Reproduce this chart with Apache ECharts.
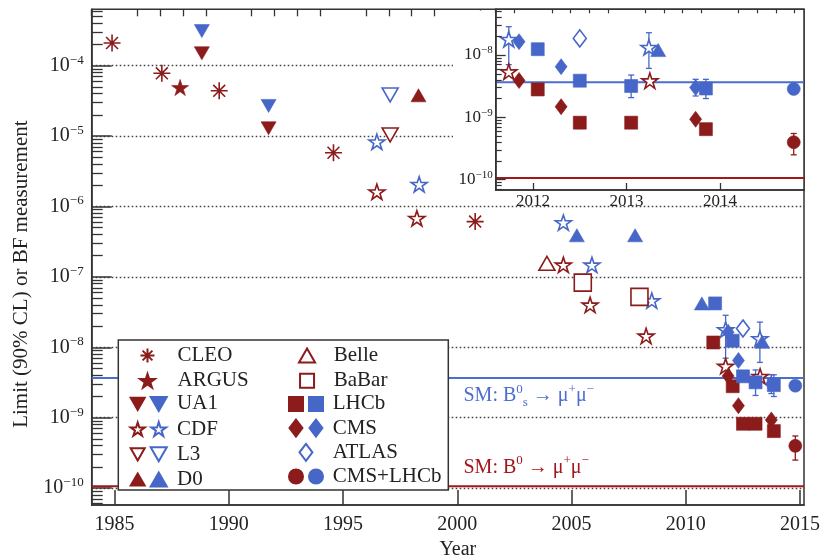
<!DOCTYPE html>
<html><head><meta charset="utf-8">
<script src="https://cdn.jsdelivr.net/npm/echarts@6/dist/echarts.min.js"></script>
<style>html,body{margin:0;padding:0;background:#fff}#c{width:820px;height:556px}</style>
</head><body><div id="c"></div>
<script>
// ---------------- DATA (year, branching fraction / limit) ----------------
const cleoB0  = [[1984.89, 2.1e-4], [1987.07, 7.8e-5], [1989.58, 4.4e-5], [1994.58, 5.8e-6], [2000.78, 6.1e-7]];
const argusB0 = [[1987.87, 4.9e-5]];
const ua1B0   = [[1988.82, 1.5e-4], [1991.74, 1.29e-5]];
const ua1Bs   = [[1988.82, 3.1e-4], [1991.74, 2.68e-5]];
const cdfB0   = [[1996.48, 1.62e-6], [1998.23, 6.8e-7], [2004.64, 1.48e-7], [2005.81, 4.0e-8], [2008.26, 1.45e-8], [2011.74, 5.4e-9], [2013.25, 3.87e-9]];
const cdfBs   = [[1996.48, 8.3e-6], [1998.33, 2.07e-6], [2004.64, 5.9e-7], [2005.89, 1.48e-7], [2008.51, 4.6e-8], [2011.74, 1.79e-8], [2013.24, 1.33e-8]];
const l3B0    = [[1997.06, 1.04e-5]];
const l3Bs    = [[1997.06, 3.84e-5]];
const d0B0    = [[1998.3, 3.8e-5]];
const d0Bs    = [[2005.23, 3.9e-7], [2007.78, 3.9e-7], [2010.7, 4.2e-8], [2013.34, 1.2e-8]];
const belleB0 = [[2003.92, 1.56e-7]];
const babarB0 = [[2005.49, 8.3e-8], [2007.97, 5.2e-8]];
const lhcbB0  = [[2011.2, 1.17e-8], [2012.05, 2.8e-9], [2012.5, 8.2e-10], [2013.05, 8.2e-10], [2013.85, 6.45e-10]];
const lhcbBs  = [[2011.28, 4.2e-8], [2012.05, 1.24e-8], [2012.5, 3.87e-9], [2013.05, 3.18e-9], [2013.85, 2.9e-9]];
const cmsB0   = [[2011.85, 3.9e-9], [2012.3, 1.48e-9], [2013.74, 9.3e-10]];
const cmsBs   = [[2011.85, 1.64e-8], [2012.3, 6.5e-9], [2013.74, 3.0e-9]];
const atlasBs = [[2012.5, 1.85e-8]];
const comboB0 = [[2014.79, 3.98e-10]];
const comboBs = [[2014.79, 2.85e-9]];
// error bars: [year, low, high]
const errBs = [[2011.74, 7e-9, 2.85e-8], [2013.24, 6.1e-9, 2.28e-8], [2013.05, 2.07e-9, 4.77e-9], [2013.74, 2.2e-9, 4.07e-9], [2013.85, 2.0e-9, 4.07e-9]];
const errB0 = [[2014.79, 2.5e-10, 5.5e-10]];
// Standard-model predictions
const smBs = 3.66e-9;
const smB0 = 1.06e-10;
// axis ticks / ranges
const mainYearLabels = [1985, 1990, 1995, 2000, 2005, 2010, 2015];
const mainDecades = [1e-10, 1e-9, 1e-8, 1e-7, 1e-6, 1e-5, 1e-4];
const insetYearLabels = [2012, 2013, 2014];
const insetDecades = [1e-10, 1e-9, 1e-8];
const mainX = [1984, 2015.17];
const mainY = [Math.pow(10, -10.24), Math.pow(10, -3.199)];
const insetX = [2011.6, 2014.9];
const insetY = [Math.pow(10, -10.167), Math.pow(10, -7.266)];

// ---------------- STYLE ----------------
const RED = '#8c1b1b', BLUE = '#4767c8', REDLINE = '#a3161a', BLUELINE = '#4c6dd2';
const FONT = 'Liberation Serif';
const ASTER = 'path://M50,0L50,100M0,50L100,50M15,15L85,85M85,15L15,85';
const STAR = 'path://M50,0L61.2,34.5L97.6,34.5L68.2,55.9L79.4,90.5L50,69.1L20.6,90.5L31.8,55.9L2.4,34.5L38.8,34.5Z';
const TRI_DN = 'path://M0,0L100,0L50,87Z';
const TRI_UP = 'path://M50,0L100,87L0,87Z';
const RECT = 'path://M0,0L100,0L100,100L0,100Z';
const DIAM = 'path://M38,0L76,50L38,100L0,50Z';

const specs = [
  {name: 'CLEO', data: cleoB0, symbol: ASTER, size: 17, color: RED, kind: 'line', label: 'CLEO'},
  {name: 'ARGUS', data: argusB0, symbol: STAR, size: 17, color: RED, kind: 'fill', label: 'ARGUS'},
  {name: 'UA1 B0', data: ua1B0, symbol: TRI_DN, size: 15, color: RED, kind: 'fill', label: 'UA1'},
  {name: 'UA1 Bs', data: ua1Bs, symbol: TRI_DN, size: 15, color: BLUE, kind: 'fill', label: 'UA1'},
  {name: 'CDF B0', data: cdfB0, symbol: STAR, size: 16, color: RED, kind: 'open', label: 'CDF'},
  {name: 'CDF Bs', data: cdfBs, symbol: STAR, size: 16, color: BLUE, kind: 'open', label: 'CDF'},
  {name: 'L3 B0', data: l3B0, symbol: TRI_DN, size: 16, color: RED, kind: 'open', label: 'L3'},
  {name: 'L3 Bs', data: l3Bs, symbol: TRI_DN, size: 16, color: BLUE, kind: 'open', label: 'L3'},
  {name: 'D0 B0', data: d0B0, symbol: TRI_UP, size: 15, color: RED, kind: 'fill', label: 'D0'},
  {name: 'D0 Bs', data: d0Bs, symbol: TRI_UP, size: 15, color: BLUE, kind: 'fill', label: 'D0'},
  {name: 'Belle', data: belleB0, symbol: TRI_UP, size: 16, color: RED, kind: 'open', label: 'Belle'},
  {name: 'BaBar', data: babarB0, symbol: RECT, size: 17, color: RED, kind: 'open', label: 'BaBar'},
  {name: 'LHCb B0', data: lhcbB0, symbol: RECT, size: 13, color: RED, kind: 'fill', label: 'LHCb'},
  {name: 'LHCb Bs', data: lhcbBs, symbol: RECT, size: 13, color: BLUE, kind: 'fill', label: 'LHCb'},
  {name: 'CMS B0', data: cmsB0, symbol: 'diamond', size: [12, 16], color: RED, kind: 'fill', label: 'CMS', free: true},
  {name: 'CMS Bs', data: cmsBs, symbol: 'diamond', size: [12, 16], color: BLUE, kind: 'fill', label: 'CMS', free: true},
  {name: 'ATLAS', data: atlasBs, symbol: 'diamond', size: [13, 17], color: BLUE, kind: 'open', label: 'ATLAS', free: true},
  {name: 'CMS+LHCb B0', data: comboB0, symbol: 'circle', size: 13, color: RED, kind: 'fill', label: 'CMS+LHCb'},
  {name: 'CMS+LHCb Bs', data: comboBs, symbol: 'circle', size: 13, color: BLUE, kind: 'fill', label: 'CMS+LHCb'}
];
const labelMap = {};
specs.forEach(s => labelMap[s.name] = s.label);

function itemStyleFor(s) {
  if (s.kind === 'fill') return {color: s.color, borderColor: s.color, borderWidth: 0.6, opacity: 1};
  if (s.kind === 'open') return {color: '#fff', borderColor: s.color, borderWidth: 1.6, opacity: 1};
  return {color: 'none', borderColor: s.color, borderWidth: 1.6, opacity: 1};
}

function scatter(s, xi, yi, data) {
  return {
    type: 'scatter', name: s.name, xAxisIndex: xi, yAxisIndex: yi,
    data: data, symbol: s.symbol, symbolSize: s.size, symbolKeepAspect: !s.free,
    itemStyle: itemStyleFor(s), z: 3, silent: true, animation: false
  };
}

function errSeries(xi, yi, rows, color) {
  return {
    type: 'custom', xAxisIndex: xi, yAxisIndex: yi, z: 3, silent: true, animation: false,
    data: rows,
    renderItem: function (params, api) {
      const x = api.value(0), lo = api.value(1), hi = api.value(2);
      const a = api.coord([x, hi]), b = api.coord([x, lo]);
      const st = {stroke: color, lineWidth: 1.3};
      const c = 3;
      return {type: 'group', children: [
        {type: 'line', shape: {x1: a[0], y1: a[1], x2: b[0], y2: b[1]}, style: st},
        {type: 'line', shape: {x1: a[0] - c, y1: a[1], x2: a[0] + c, y2: a[1]}, style: st},
        {type: 'line', shape: {x1: b[0] - c, y1: b[1], x2: b[0] + c, y2: b[1]}, style: st}
      ]};
    }
  };
}

function powLabel(v) {
  const e = Math.round(Math.log10(v));
  return '{b|10}{s|' + (e < 0 ? '\u2212' : '') + Math.abs(e) + '}';
}

// tick lists
const mainYearMinor = [];
for (let y = 1984; y <= 2015; y++) if (y % 5 !== 0) mainYearMinor.push(y);
const insetYearMinor = [];
for (let k = 0; k <= 16; k++) { const v = Math.round((2011.6 + 0.2 * k) * 10) / 10; if (Math.abs(v - Math.round(v)) > 1e-6) insetYearMinor.push(v); }
function logMinor(e0, e1) { const out = []; for (let e = e0; e <= e1; e++) for (let m = 2; m <= 9; m++) out.push(m * Math.pow(10, e)); return out; }
const mainYMinor = logMinor(-11, -4);
const insetYMinor = logMinor(-11, -8);

const AXC = '#333';

const xAxes = [
  { // 0: main, labels + major ticks
    type: 'value', gridIndex: 0, min: mainX[0], max: mainX[1], z: 0,
    axisLine: {show: true, lineStyle: {color: AXC, width: 1.5}},
    axisTick: {show: true, inside: true, length: 15, customValues: mainYearLabels, lineStyle: {color: AXC, width: 1.5}},
    axisLabel: {customValues: mainYearLabels, margin: 10, fontFamily: FONT, fontSize: 20, color: '#222', formatter: v => String(v)},
    splitLine: {show: false},
    name: 'Year', nameLocation: 'middle', nameGap: 29,
    nameTextStyle: {fontFamily: FONT, fontSize: 20, color: '#222', padding: [0, 0, 0, 20]}
  },
  { // 1: main minor ticks
    type: 'value', gridIndex: 0, min: mainX[0], max: mainX[1], z: 0,
    axisLine: {show: false},
    axisTick: {show: true, inside: true, length: 7, customValues: mainYearMinor, lineStyle: {color: AXC, width: 1.3}},
    axisLabel: {show: false}, splitLine: {show: false}
  },
  { // 2: inset labels + major ticks
    type: 'value', gridIndex: 1, min: insetX[0], max: insetX[1], z: 4,
    axisLine: {show: true, lineStyle: {color: AXC, width: 1.5}},
    axisTick: {show: true, inside: true, length: 7, customValues: insetYearLabels, lineStyle: {color: AXC, width: 1.3}},
    axisLabel: {customValues: insetYearLabels, margin: 3, fontFamily: FONT, fontSize: 17, color: '#222', formatter: v => String(v)},
    splitLine: {show: false}
  },
  { // 3: inset minor ticks
    type: 'value', gridIndex: 1, min: insetX[0], max: insetX[1], z: 4,
    axisLine: {show: false},
    axisTick: {show: true, inside: true, length: 4, customValues: insetYearMinor, lineStyle: {color: AXC, width: 1.2}},
    axisLabel: {show: false}, splitLine: {show: false}
  }
];

const yAxes = [
  { // 0: main decades
    type: 'log', gridIndex: 0, min: mainY[0], max: mainY[1], z: 0,
    axisLine: {show: true, lineStyle: {color: AXC, width: 1.5}},
    axisTick: {show: true, inside: true, length: 20, customValues: mainDecades, lineStyle: {color: AXC, width: 1.5}},
    axisLabel: {customValues: mainDecades, margin: 8, formatter: powLabel,
      rich: {b: {fontFamily: FONT, fontSize: 20, color: '#222', lineHeight: 24},
             s: {fontFamily: FONT, fontSize: 13, color: '#222', lineHeight: 14, verticalAlign: 'top'}}},
    splitLine: {show: true, lineStyle: {color: '#444', width: 1.3, type: [1.6, 2.4]}},
    name: 'Limit (90% CL) or BF measurement', nameLocation: 'middle', nameGap: 58,
    nameTextStyle: {fontFamily: FONT, fontSize: 21, color: '#222', padding: [0, 34, 0, 0]}
  },
  { // 1: main minor ticks
    type: 'log', gridIndex: 0, min: mainY[0], max: mainY[1], z: 0, position: 'left',
    axisLine: {show: false},
    axisTick: {show: true, inside: true, length: 11, customValues: mainYMinor, lineStyle: {color: AXC, width: 1.3}},
    axisLabel: {show: false}, splitLine: {show: false}
  },
  { // 2: inset decades
    type: 'log', gridIndex: 1, min: insetY[0], max: insetY[1], z: 4,
    axisLine: {show: true, lineStyle: {color: AXC, width: 1.5}},
    axisTick: {show: true, inside: true, length: 10, customValues: insetDecades, lineStyle: {color: AXC, width: 1.3}},
    axisLabel: {customValues: insetDecades, margin: 3, formatter: powLabel,
      rich: {b: {fontFamily: FONT, fontSize: 17, color: '#222', lineHeight: 20},
             s: {fontFamily: FONT, fontSize: 11, color: '#222', lineHeight: 12, verticalAlign: 'top'}}},
    splitLine: {show: false}
  },
  { // 3: inset minor ticks
    type: 'log', gridIndex: 1, min: insetY[0], max: insetY[1], z: 4, position: 'left',
    axisLine: {show: false},
    axisTick: {show: true, inside: true, length: 6, customValues: insetYMinor, lineStyle: {color: AXC, width: 1.2}},
    axisLabel: {show: false}, splitLine: {show: false}
  }
];

const series = [];
function smLine(xi, yi, xr, val, color, withLabel, labelText, off) {
  const s = {
    type: 'line', xAxisIndex: xi, yAxisIndex: yi, data: [[xr[0], val], [xr[1], val]],
    showSymbol: false, symbol: 'none', lineStyle: {color: color, width: 2}, z: 2, silent: true, animation: false
  };
  if (withLabel) {
    s.markPoint = {
      silent: true, animation: false, symbol: 'circle', symbolSize: 0,
      data: [{coord: [2000.05, val]}],
      label: {show: true, position: 'right', distance: 5, offset: [0, off], formatter: labelText,
        fontFamily: FONT, fontSize: 20, color: color,
        rich: {n: {fontFamily: FONT, fontSize: 20, color: color, lineHeight: 26},
               sup: {fontFamily: FONT, fontSize: 13, color: color, lineHeight: 13, verticalAlign: 'top'},
               sub: {fontFamily: FONT, fontSize: 13, color: color, lineHeight: 13, verticalAlign: 'bottom'}}}
    };
  }
  return s;
}
series.push(smLine(0, 0, mainX, smBs, BLUELINE, true, '{n|SM: B}{sup|0}{sub|s}{n| \u2192 \u03bc}{sup|+}{n|\u03bc}{sup|\u2212}', 18));
series.push(smLine(0, 0, mainX, smB0, REDLINE, true, '{n|SM: B}{sup|0}{n| \u2192 \u03bc}{sup|+}{n|\u03bc}{sup|\u2212}', -19));
series.push(smLine(2, 2, insetX, smBs, BLUELINE, false));
series.push(smLine(2, 2, insetX, smB0, REDLINE, false));
series.push(errSeries(0, 0, errBs, BLUE));
series.push(errSeries(0, 0, errB0, RED));
series.push(errSeries(2, 2, errBs.filter(r => r[0] >= insetX[0]), BLUE));
series.push(errSeries(2, 2, errB0.filter(r => r[0] >= insetX[0]), RED));
specs.forEach(s => series.push(scatter(s, 0, 0, s.data)));
specs.forEach(s => {
  const d = s.data.filter(p => p[0] >= insetX[0] && p[0] <= insetX[1]);
  if (d.length) series.push(scatter(s, 2, 2, d));
});

// legends: centre of first row, row step
const ROWC = 355, ROWH = 24.2, TEXTH = 20;
// iconC: icon centre x, textX: text start x (null = icon only), ih: icon height, half: half icon width
function lg(iconC, textX, row, names, ih, half, icon) {
  const w = textX ? 2 * (textX - iconC - 5) : 14;
  return {
    orient: 'vertical', left: iconC - (half || 7), top: ROWC + ROWH * row - TEXTH / 2,
    itemWidth: w, itemHeight: ih || 14, itemGap: ROWH - TEXTH, padding: 0, selectedMode: false, z: 6,
    data: names.map(n => ({name: n, icon: icon || specs.find(s => s.name === n).symbol})),
    formatter: n => labelMap[n],
    textStyle: {fontFamily: FONT, fontSize: 21, lineHeight: TEXTH, color: textX ? '#222' : 'rgba(0,0,0,0)'}
  };
}
const legends = [
  lg(145, 175, 0, ['CLEO', 'ARGUS']),
  lg(136.7, null, 2, ['UA1 B0', 'CDF B0', 'L3 B0', 'D0 B0']),
  lg(156.7, 175, 2, ['UA1 Bs', 'CDF Bs', 'L3 Bs', 'D0 Bs']),
  lg(305, 331.7, 0, ['Belle', 'BaBar']),
  lg(295, null, 2, ['LHCb B0']),
  lg(315, 331.7, 2, ['LHCb Bs']),
  lg(295, null, 3, ['CMS B0'], 17, 6.5, DIAM),
  lg(315, 331.7, 3, ['CMS Bs'], 17, 6.5, DIAM),
  lg(305, 331.7, 4, ['ATLAS'], 17, 6.5, DIAM),
  lg(295, null, 5, ['CMS+LHCb B0']),
  lg(315, 331.7, 5, ['CMS+LHCb Bs'])
];

const option = {
  animation: false,
  backgroundColor: '#fff',
  grid: [
    {left: 91.7, top: 9.3, width: 712.3, height: 495.7, show: true, backgroundColor: 'transparent', borderColor: AXC, borderWidth: 1.5, z: 0, containLabel: false, outerBoundsMode: 'none'},
    {left: 495.7, top: 9.3, width: 308.3, height: 180.7, show: true, backgroundColor: '#fff', borderColor: AXC, borderWidth: 1.5, z: 1, containLabel: false, outerBoundsMode: 'none'},
    {left: 453, top: 10.5, width: 42, height: 179, show: true, backgroundColor: '#fff', borderWidth: 0, borderColor: 'transparent', z: 1, outerBoundsMode: 'none'},
    {left: 118.3, top: 340, width: 330, height: 150, show: true, backgroundColor: '#fff', borderColor: AXC, borderWidth: 1.5, z: 3, outerBoundsMode: 'none'}
  ],
  xAxis: xAxes,
  yAxis: yAxes,
  legend: legends,
  series: series
};

const chart = echarts.init(document.getElementById('c'), null, {renderer: 'canvas'});
chart.setOption(option);
</script></body></html>
